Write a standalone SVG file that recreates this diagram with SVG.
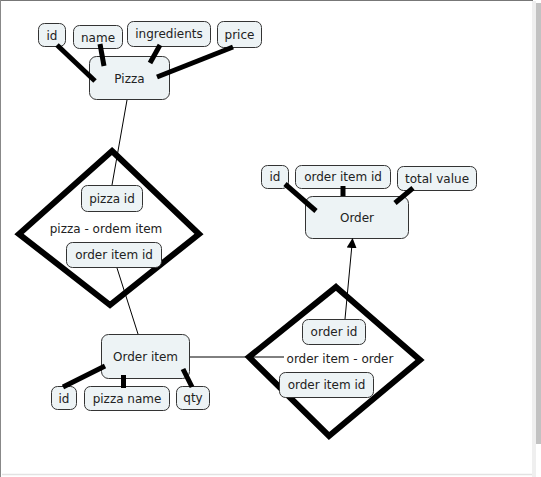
<svg xmlns="http://www.w3.org/2000/svg" width="541" height="477" viewBox="0 0 541 477">
<style>
.box{fill:#edf3f5;stroke:#333;stroke-width:1}
.t{font-family:"DejaVu Sans",Verdana,sans-serif;font-size:12px;fill:#222;text-anchor:middle}
.thick{stroke:#000;stroke-width:5;fill:none}
.thin{stroke:#000;stroke-width:1;fill:none}
.dia{fill:none;stroke:#000;stroke-width:6;stroke-linejoin:miter}
</style>
<defs>
<marker id="arr" markerWidth="10" markerHeight="10" refX="9" refY="5" orient="auto" markerUnits="userSpaceOnUse">
<path d="M0,0 L10,5 L0,10 Z" fill="#000"/>
</marker>
</defs>
<rect x="0" y="0" width="541" height="477" fill="#fff"/>
<g id="frame">
<line x1="0" y1="0.5" x2="533" y2="0.5" stroke="#777" stroke-width="1"/>
<line x1="0.5" y1="0" x2="0.5" y2="477" stroke="#888" stroke-width="1"/>
<line x1="2" y1="474.5" x2="532" y2="474.5" stroke="#e2e2e2" stroke-width="1.5"/>
<rect x="532" y="1" width="4" height="476" fill="#efefef"/>
<rect x="536" y="3" width="5" height="441" fill="#c2c2c2"/>
</g>
<g id="rel-pizza-orderitem">
<polygon class="dia" points="112,151 199,234 110,305 19,234"/>
<text class="t" x="106" y="232.5">pizza - ordem item</text>
</g>
<g id="rel-orderitem-order">
<polygon class="dia" points="336,287 420,360 329,436 249,357"/>
<circle cx="420" cy="360" r="2.5" fill="#000"/>
<text class="t" x="340" y="363">order item - order</text>
</g>
<g id="pizza"><rect class="box" x="89.5" y="56.5" width="80" height="43" rx="7"/><text class="t" x="129.5" y="83">Pizza</text></g>
<g id="pizza-id"><rect class="box" x="38.5" y="23.5" width="27" height="23" rx="6"/><text class="t" x="52" y="39.5">id</text></g>
<g id="pizza-name"><rect class="box" x="73.5" y="25.5" width="49" height="23" rx="6"/><text class="t" x="98" y="41.5">name</text></g>
<g id="pizza-ingredients"><rect class="box" x="127.5" y="21.5" width="83" height="25" rx="6"/><text class="t" x="169" y="38">ingredients</text></g>
<g id="pizza-price"><rect class="box" x="217.5" y="21.5" width="44" height="26" rx="6"/><text class="t" x="239.5" y="38.5">price</text></g>
<g id="rel1-pizzaid"><rect class="box" x="81.5" y="185.5" width="61" height="26" rx="6"/><text class="t" x="112" y="202.5">pizza id</text></g>
<g id="rel1-orderitemid"><rect class="box" x="66.5" y="242.5" width="95" height="25" rx="6"/><text class="t" x="114" y="259">order item id</text></g>
<g id="orderitem"><rect class="box" x="101.5" y="334.5" width="88" height="44" rx="7"/><text class="t" x="145.5" y="361">Order item</text></g>
<g id="orderitem-id"><rect class="box" x="51.5" y="386.5" width="25" height="23" rx="6"/><text class="t" x="64" y="402.5">id</text></g>
<g id="orderitem-pizzaname"><rect class="box" x="84.5" y="386.5" width="85" height="24" rx="6"/><text class="t" x="127" y="402.5">pizza name</text></g>
<g id="orderitem-qty"><rect class="box" x="176.5" y="386.5" width="33" height="23" rx="6"/><text class="t" x="193" y="402">qty</text></g>
<g id="order"><rect class="box" x="305.5" y="196.5" width="103" height="42" rx="7"/><text class="t" x="357" y="221.5">Order</text></g>
<g id="order-id"><rect class="box" x="261.5" y="165.5" width="27" height="23" rx="6"/><text class="t" x="275" y="181">id</text></g>
<g id="order-orderitemid"><rect class="box" x="295.5" y="165.5" width="95" height="23" rx="6"/><text class="t" x="343" y="181">order item id</text></g>
<g id="order-totalvalue"><rect class="box" x="397.5" y="166.5" width="79" height="24" rx="6"/><text class="t" x="437" y="182.5">total value</text></g>
<g id="rel2-orderid"><rect class="box" x="302.5" y="319.5" width="63" height="25" rx="6"/><text class="t" x="334" y="336">order id</text></g>
<g id="rel2-orderitemid"><rect class="box" x="279.5" y="372.5" width="94" height="25" rx="6"/><text class="t" x="326.5" y="389">order item id</text></g>
<g id="connectors">
<line class="thin" x1="127" y1="100" x2="112" y2="185"/>
<line class="thin" x1="117" y1="268" x2="138" y2="334"/>
<line class="thin" x1="190" y1="357" x2="284" y2="357"/>
<line class="thin" x1="345" y1="319" x2="352.5" y2="239" marker-end="url(#arr)"/>
<line class="thick" x1="57" y1="45" x2="95" y2="81"/>
<line class="thick" x1="100" y1="44" x2="104" y2="66"/>
<line class="thick" x1="160" y1="45" x2="150" y2="63"/>
<line class="thick" x1="233" y1="47" x2="157" y2="77"/>
<line class="thick" x1="63" y1="387" x2="105" y2="366"/>
<line class="thick" x1="123.5" y1="375" x2="123.5" y2="388"/>
<line class="thick" x1="183" y1="369" x2="192" y2="387"/>
<line class="thick" x1="285" y1="184" x2="316" y2="211"/>
<line class="thick" x1="343" y1="186" x2="343" y2="196"/>
<line class="thick" x1="413" y1="188" x2="395" y2="203"/>
</g>
</svg>
